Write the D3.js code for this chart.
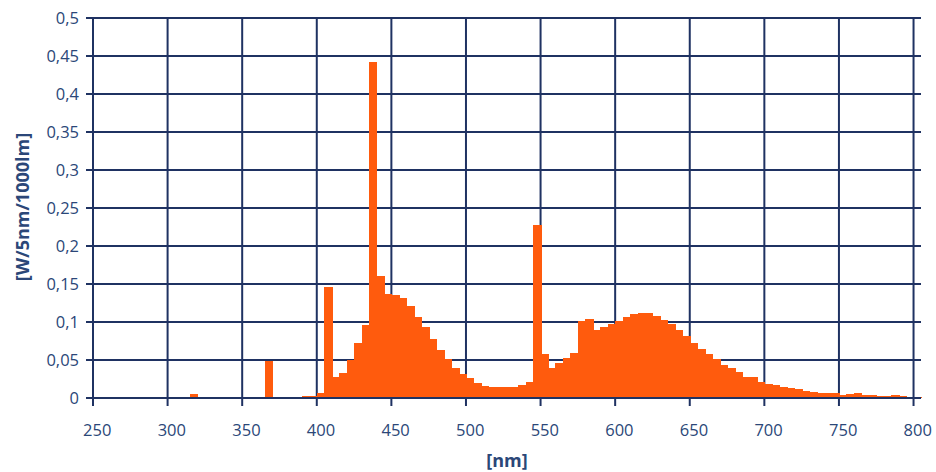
<!DOCTYPE html>
<html>
<head>
<meta charset="utf-8">
<script src="https://cdn.jsdelivr.net/npm/d3@7"></script>
<style>
  body { margin: 0; background: #fff; }
  svg { display: block; }
  text { font-family: "Open Sans", "Noto Sans", sans-serif; }
  .axis text { fill: #2b4778; font-size: 16.5px; font-family: "Open Sans", "Noto Sans", sans-serif; }
  .axis path { display: none; }
  .grid line { stroke: #1f3262; stroke-width: 2; }
  .title { fill: #2b4778; font-weight: bold; font-size: 18px; }
</style>
</head>
<body>
<div id="chart"></div>
<script>
// 5 nm bins, 250..800 nm
const wavelengths = d3.range(250, 805, 5);

// W / 5nm / 1000lm, one value per bin
const power = [
  0, 0, 0, 0, 0, 0, 0, 0, 0, 0, 0, 0, 0,          // 250-310
  0.005,                                          // 315
  0, 0, 0, 0, 0, 0, 0, 0, 0,                      // 320-360
  0.049,                                          // 365
  0, 0, 0, 0,                                     // 370-385
  0.002, 0.003, 0.006, 0.146, 0.027, 0.033, 0.050, 0.072, 0.096, 0.442, // 390-435
  0.160, 0.137, 0.135, 0.132, 0.121, 0.107, 0.093, 0.078, 0.063, 0.051, // 440-485
  0.040, 0.032, 0.026, 0.020, 0.016, 0.014, 0.014, 0.014, 0.014, 0.017, // 490-535
  0.021, 0.227, 0.058, 0.040, 0.046, 0.053, 0.059, 0.101, 0.104, 0.089, // 540-585
  0.094, 0.098, 0.101, 0.107, 0.111, 0.112, 0.112, 0.108, 0.103, 0.097, // 590-635
  0.090, 0.082, 0.073, 0.065, 0.058, 0.051, 0.043, 0.039, 0.034, 0.028, // 640-685
  0.028, 0.021, 0.019, 0.017, 0.0145, 0.0137, 0.012, 0.009, 0.0075, 0.007, // 690-735
  0.0066, 0.0066, 0.0045, 0.005, 0.0066, 0.0045, 0.0035, 0.002, 0.002, 0.0045, // 740-785
  0.002, 0.0015, 0.0015                           // 790-800
];

const xTicks = [250, 300, 350, 400, 450, 500, 550, 600, 650, 700, 750, 800];
const yTicks = [0, 0.05, 0.1, 0.15, 0.2, 0.25, 0.3, 0.35, 0.4, 0.45, 0.5];

const data = wavelengths.map((w, i) => ({ w: w, v: power[i] }));

const width = 936;
const height = 472;
const margin = { top: 18, right: 15, bottom: 74, left: 93 };

const x = d3.scaleLinear()
  .domain([250, 805])
  .range([margin.left, width - margin.right]);

const y = d3.scaleLinear()
  .domain([0, 0.5])
  .range([height - margin.bottom, margin.top]);

const comma = d3.formatLocale({ decimal: ',', thousands: '.', grouping: [3], currency: ['', ''] });
const fmt = comma.format('~g');

const svg = d3.select('#chart').append('svg')
  .attr('width', width)
  .attr('height', height);

// grid
svg.append('g')
  .attr('class', 'grid')
  .selectAll('line')
  .data(yTicks)
  .join('line')
    .attr('x1', x(250) - 7)
    .attr('x2', x(805))
    .attr('y1', d => y(d))
    .attr('y2', d => y(d));

svg.append('g')
  .attr('class', 'grid')
  .selectAll('line')
  .data(xTicks)
  .join('line')
    .attr('x1', d => x(d))
    .attr('x2', d => x(d))
    .attr('y1', y(0.5))
    .attr('y2', y(0) + 8);

// bars, slightly widened so neighbours touch without seams
const binW = x(255) - x(250);
svg.append('g')
  .attr('shape-rendering', 'crispEdges')
  .selectAll('rect')
  .data(data.filter(d => d.v > 0))
  .join('rect')
    .attr('x', d => x(d.w))
    .attr('width', binW + 1)
    .attr('y', d => y(d.v))
    .attr('height', d => y(0) - y(d.v))
    .attr('fill', '#ff5b0d');

// zero line over the bars
svg.append('line')
  .attr('x1', x(250) - 7)
  .attr('x2', x(805))
  .attr('y1', y(0))
  .attr('y2', y(0))
  .attr('stroke', '#1f3262')
  .attr('stroke-width', 2);

// axes (labels only, grid drawn above)
svg.append('g')
  .attr('class', 'axis')
  .attr('transform', `translate(0,${y(0)})`)
  .call(d3.axisBottom(x).tickValues(xTicks).tickSize(0).tickPadding(26))
  .selectAll('text')
    .attr('dx', binW / 2);

svg.append('g')
  .attr('class', 'axis')
  .attr('transform', `translate(${x(250)},0)`)
  .call(d3.axisLeft(y).tickValues(yTicks).tickFormat(fmt).tickSize(0).tickPadding(14));

svg.append('text')
  .attr('class', 'title')
  .attr('transform', `translate(29,${(y(0) + y(0.5)) / 2 - 1}) rotate(-90)`)
  .attr('text-anchor', 'middle')
  .text('[W/5nm/1000lm]');

svg.append('text')
  .attr('class', 'title')
  .attr('x', (x(250) + x(805)) / 2)
  .attr('y', 467)
  .attr('text-anchor', 'middle')
  .text('[nm]');
</script>
</body>
</html>
